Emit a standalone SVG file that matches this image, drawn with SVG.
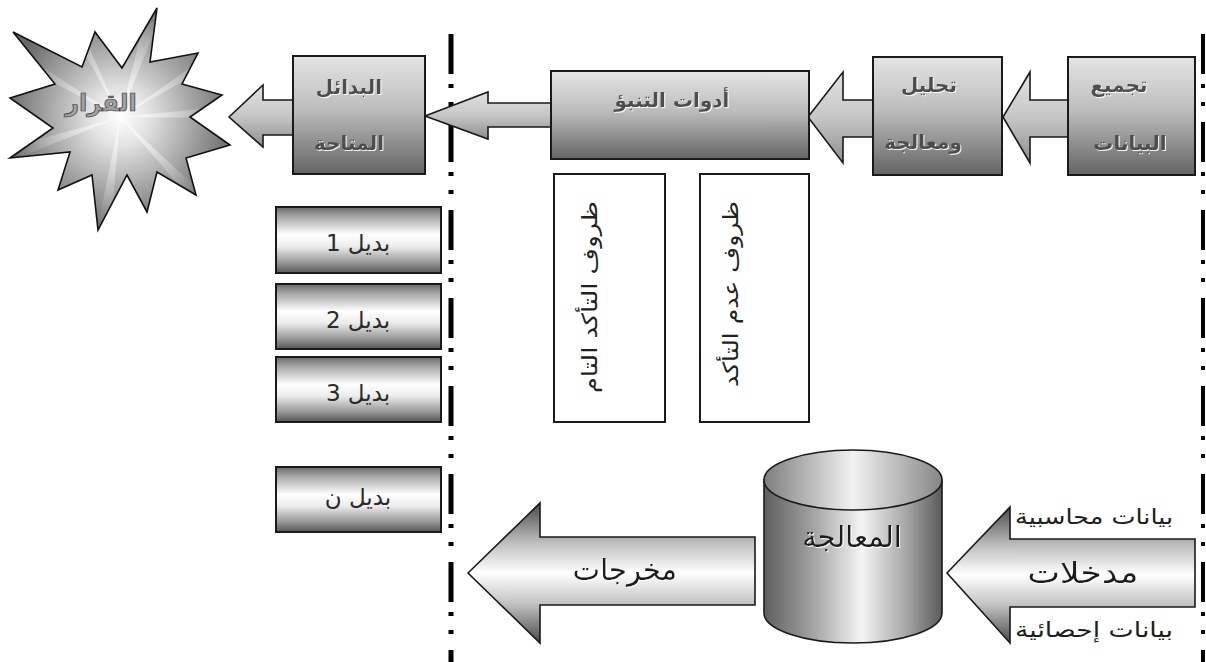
<svg xmlns="http://www.w3.org/2000/svg" width="1206" height="662" viewBox="0 0 1206 662">
  <defs>
    <linearGradient id="gBox" x1="0" y1="0" x2="0" y2="1">
      <stop offset="0" stop-color="#e4e4e4"/>
      <stop offset="0.45" stop-color="#bdbdbd"/>
      <stop offset="1" stop-color="#646464"/>
    </linearGradient>
    <linearGradient id="gArrowSmall" x1="0" y1="0" x2="0" y2="1">
      <stop offset="0" stop-color="#e2e2e2"/>
      <stop offset="0.5" stop-color="#c6c6c6"/>
      <stop offset="1" stop-color="#8e8e8e"/>
    </linearGradient>
    <linearGradient id="gMetal" x1="0" y1="0" x2="0" y2="1">
      <stop offset="0" stop-color="#6a6a6a"/>
      <stop offset="0.15" stop-color="#a8a8a8"/>
      <stop offset="0.42" stop-color="#ffffff"/>
      <stop offset="0.6" stop-color="#ececec"/>
      <stop offset="0.85" stop-color="#959595"/>
      <stop offset="1" stop-color="#555555"/>
    </linearGradient>
    <linearGradient id="gBig" x1="0" y1="0" x2="0" y2="1">
      <stop offset="0" stop-color="#4a4a4a"/>
      <stop offset="0.28" stop-color="#bdbdbd"/>
      <stop offset="0.5" stop-color="#ffffff"/>
      <stop offset="0.72" stop-color="#c2c2c2"/>
      <stop offset="1" stop-color="#4a4a4a"/>
    </linearGradient>
    <linearGradient id="gCyl" x1="0" y1="0" x2="1" y2="0">
      <stop offset="0" stop-color="#5e5e5e"/>
      <stop offset="0.25" stop-color="#9c9c9c"/>
      <stop offset="0.55" stop-color="#f4f4f4"/>
      <stop offset="0.8" stop-color="#a6a6a6"/>
      <stop offset="1" stop-color="#5a5a5a"/>
    </linearGradient>
    <linearGradient id="gCylTop" x1="0" y1="0" x2="1" y2="0">
      <stop offset="0" stop-color="#7e7e7e"/>
      <stop offset="0.5" stop-color="#f2f2f2"/>
      <stop offset="1" stop-color="#858585"/>
    </linearGradient>
    <radialGradient id="gStar" gradientUnits="userSpaceOnUse" cx="120" cy="117" r="118">
      <stop offset="0" stop-color="#ffffff"/>
      <stop offset="0.25" stop-color="#e2e2e2"/>
      <stop offset="1" stop-color="#666666"/>
    </radialGradient>
    <radialGradient id="gRay" gradientUnits="userSpaceOnUse" cx="120" cy="117" r="110">
      <stop offset="0" stop-color="#ffffff" stop-opacity="0.7"/>
      <stop offset="1" stop-color="#ffffff" stop-opacity="0"/>
    </radialGradient>
    <clipPath id="starClip">
      <polygon id="starShape" points="157,8 150,62 198,53 182,84 222,95 190,117 230,145 186,158 196,195 157,172 147,212 127,175 98,230 92,175 58,190 70,152 10,158 53,128 10,98 55,84 13,32 82,67 95,32 122,68"/>
    </clipPath>
    <filter id="soft" x="-10%" y="-10%" width="120%" height="120%">
      <feDropShadow dx="1" dy="1" stdDeviation="0.6" flood-color="#ffffff" flood-opacity="0.9"/>
    </filter>
  </defs>

  <style>
    .box { stroke: #1a1a1a; stroke-width: 2; }
    .arrow { stroke: #1a1a1a; stroke-width: 1.6; stroke-linejoin: miter; }
    .plain { fill: #ffffff; stroke: #1a1a1a; stroke-width: 2; }
    .sep { fill: none; stroke: #000; stroke-dasharray: 40 10 4 14 4 16; }
    .ar { font-family: "DejaVu Sans", "Noto Sans", sans-serif; text-anchor: middle; }
    .lbl { font-size: 20px; font-weight: bold; fill: #4e4e4e; filter: url(#soft); }
    .alt { font-size: 23px; fill: #2a2a2a; }
    .big { font-size: 29px; fill: #1e1e1e; filter: url(#soft); }
    .side { font-size: 21px; fill: #1e1e1e; }
    .vert { font-size: 21px; fill: #222; }
  </style>

  <!-- dash-dot separators -->
  <g id="separators">
    <line class="sep" x1="451" y1="34" x2="451" y2="662" stroke-width="5"/>
    <line class="sep" x1="1203" y1="34" x2="1203" y2="662" stroke-width="4"/>
  </g>

  <!-- block arrows linking the stages -->
  <g id="connectors">
    <path class="arrow" fill="url(#gArrowSmall)" d="M1003,117 L1030,72 L1030,100 L1069,100 L1069,137 L1030,137 L1030,163 Z"/>
    <path class="arrow" fill="url(#gArrowSmall)" d="M808,117 L843,72 L843,100 L874,100 L874,137 L843,137 L843,163 Z"/>
    <path class="arrow" fill="url(#gArrowSmall)" d="M425,116 L488,92 L488,103 L552,103 L552,127 L488,127 L488,139 Z"/>
    <path class="arrow" fill="url(#gArrowSmall)" d="M229,117 L263,85 L263,100 L294,100 L294,135 L263,135 L263,147 Z"/>
    <path id="inputs" class="arrow" fill="url(#gBig)" d="M947,573 L1010,507 L1010,539 L1195,539 L1195,607 L1010,607 L1010,643 Z"/>
    <path id="outputs" class="arrow" fill="url(#gBig)" d="M468,573 L540,503 L540,537 L755,537 L755,605 L540,605 L540,643 Z"/>
  </g>

  <!-- decision star -->
  <g id="decision">
    <use href="#starShape" fill="url(#gStar)"/>
    <g clip-path="url(#starClip)" fill="url(#gRay)">
      <path d="M120,117 L240,105 L240,118 Z"/>
      <path d="M120,117 L150,0 L165,5 Z"/>
      <path d="M120,117 L0,40 L0,55 Z"/>
      <path d="M120,117 L0,150 L0,165 Z"/>
      <path d="M120,117 L95,240 L110,240 Z"/>
      <path d="M120,117 L200,210 L210,200 Z"/>
      <path d="M120,117 L230,40 L235,52 Z"/>
      <path d="M120,117 L55,0 L68,0 Z"/>
    </g>
    <use href="#starShape" fill="none" stroke="#111" stroke-width="1.6"/>
    <text class="ar" x="101" y="111" font-size="24" font-weight="bold" fill="#a0a0a0" stroke="#333" stroke-width="0.7">القرار</text>
  </g>

  <g id="badael">
    <rect class="box" x="293" y="56" width="132" height="118" fill="url(#gBox)"/>
    <text class="ar lbl" x="349" y="94">البدائل</text>
    <text class="ar lbl" x="349" y="150">المتاحة</text>
  </g>

  <g id="adawat">
    <rect class="box" x="551" y="71" width="258" height="88" fill="url(#gBox)"/>
    <text class="ar lbl" x="672" y="107">أدوات التنبؤ</text>
  </g>

  <g id="tahleel">
    <rect class="box" x="873" y="57" width="129" height="118" fill="url(#gBox)"/>
    <text class="ar lbl" x="929" y="92">تحليل</text>
    <text class="ar lbl" x="923" y="149">ومعالجة</text>
  </g>

  <g id="tajmee">
    <rect class="box" x="1068" y="57" width="127" height="118" fill="url(#gBox)"/>
    <text class="ar lbl" x="1119" y="92">تجميع</text>
    <text class="ar lbl" x="1130" y="150">البيانات</text>
  </g>

  <g id="certainty">
    <rect class="plain" x="554" y="174" width="111" height="248"/>
    <text class="ar vert" transform="translate(590,297) rotate(-90)" dominant-baseline="central" textLength="192" lengthAdjust="spacingAndGlyphs">ظروف التأكد التام</text>
  </g>

  <g id="uncertainty">
    <rect class="plain" x="700" y="174" width="109" height="248"/>
    <text class="ar vert" transform="translate(731,294) rotate(-90)" dominant-baseline="central" textLength="186" lengthAdjust="spacingAndGlyphs">ظروف عدم التأكد</text>
  </g>

  <g id="alt1">
    <rect class="box" x="276" y="207" width="165" height="66" fill="url(#gMetal)"/>
    <text class="ar alt" x="358" y="251">بديل 1</text>
  </g>
  <g id="alt2">
    <rect class="box" x="276" y="284" width="165" height="65" fill="url(#gMetal)"/>
    <text class="ar alt" x="358" y="328">بديل 2</text>
  </g>
  <g id="alt3">
    <rect class="box" x="276" y="357" width="165" height="65" fill="url(#gMetal)"/>
    <text class="ar alt" x="358" y="401">بديل 3</text>
  </g>
  <g id="altN">
    <rect class="box" x="276" y="467" width="165" height="65" fill="url(#gMetal)"/>
    <text class="ar alt" x="358" y="505">بديل ن</text>
  </g>

  <!-- processing store -->
  <g id="processing">
    <path class="arrow" fill="url(#gCyl)" d="M764,480 V613 A89,30 0 0 0 942,613 V480 Z"/>
    <ellipse class="arrow" cx="853" cy="480" rx="89" ry="30" fill="url(#gCylTop)"/>
    <text class="ar big" x="852" y="547">المعالجة</text>
  </g>

  <g id="inputs-labels">
    <text class="ar big" x="1083" y="583" textLength="111" lengthAdjust="spacingAndGlyphs">مدخلات</text>
    <text class="ar side" x="1094" y="524" textLength="158" lengthAdjust="spacingAndGlyphs">بيانات محاسبية</text>
    <text class="ar side" x="1094" y="637" textLength="158" lengthAdjust="spacingAndGlyphs">بيانات إحصائية</text>
  </g>

  <g id="outputs-label">
    <text class="ar big" x="625" y="580" font-size="31">مخرجات</text>
  </g>
</svg>
